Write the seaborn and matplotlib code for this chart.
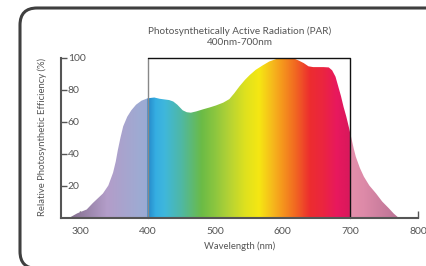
import numpy as np
import pandas as pd
import seaborn as sns
import matplotlib.pyplot as plt
from matplotlib.colors import LinearSegmentedColormap, to_rgb
from matplotlib.patches import FancyBboxPatch, Polygon

wavelength = [285, 296, 310, 319, 334, 342, 349, 353, 356, 360, 364, 370, 376, 383, 391,
              400, 410, 418, 425, 432, 438, 444, 452, 458, 464, 472, 482, 492, 501, 512,
              521, 528, 536, 544, 551, 560, 570, 580, 590, 600, 610, 617, 624, 631, 638,
              645, 660, 668, 673, 678, 682, 686, 690, 694, 698, 701, 705, 708, 714, 720,
              728, 738, 747, 757, 764, 770]
efficiency = [0, 2.6, 5, 9, 15, 20, 28, 35, 42, 50, 57, 63, 67, 70.5, 73,
              74.5, 75, 74.2, 73.8, 73.4, 72.5, 70.5, 67, 65.8, 65.5, 66.3, 67.6, 68.8, 70, 71.8,
              74, 77.5, 82, 86, 89, 92.3, 95, 97.5, 99, 100, 100, 99.3, 98, 96.5, 94.5,
              94, 94, 93.8, 92, 88, 82, 76, 69, 63, 56, 50.5, 43, 38, 31, 25.5,
              20, 15, 10, 5.7, 2.5, 0.3]

# colour stops along the spectrum (nm, colour)
stop_nm = [272, 290, 340, 390, 399.4, 400, 412, 425, 450, 480, 500, 520, 545, 565, 585,
           600, 620, 640, 660, 680, 699.4, 700, 720, 800]
stop_col = ["#7a6688", "#887394", "#b39dc9", "#9dabd3", "#9aaad4", "#2586c8", "#35aee2",
            "#3fb7dc", "#4fb8a4", "#6bbb46", "#8cc63f", "#b3d235", "#dfe11e", "#f5e713",
            "#f6b91c", "#f5951d", "#f16522", "#ed2d2f", "#eb2540", "#e8185e", "#d9185c",
            "#e38fab", "#dd8aa8", "#a8668a"]

x_ticks = [300, 400, 500, 600, 700, 800]
y_ticks = [20, 40, 60, 80, 100]
par_range = (400, 700)

title = "Photosynthetically Active Radiation (PAR)\n400nm-700nm"
xlabel = "Wavelength (nm)"
ylabel = "Relative Photosynthetic Efficiency (%)"

sns.set_style("white")
plt.rcParams["font.family"] = ["Lato", "DejaVu Sans"]
text_col = "#555555"

fig = plt.figure(figsize=(4.26, 2.66), dpi=100)
ax = fig.add_axes([61 / 426, 1 - 217.5 / 266, 357 / 426, 160 / 266])

df = pd.DataFrame({"wavelength": wavelength, "efficiency": efficiency})
sns.lineplot(data=df, x="wavelength", y="efficiency", ax=ax, lw=0, color="white")

# spectrum gradient clipped to the curve
pos = [(n - stop_nm[0]) / (stop_nm[-1] - stop_nm[0]) for n in stop_nm]
cmap = LinearSegmentedColormap.from_list("spec", list(zip(pos, [to_rgb(c) for c in stop_col])), N=1024)
grad = np.linspace(0, 1, 1024).reshape(1, -1)
im = ax.imshow(grad, cmap=cmap, extent=(stop_nm[0], stop_nm[-1], 0, 100),
               aspect="auto", origin="lower", zorder=1)
poly = Polygon(list(zip(wavelength, efficiency)) + [(wavelength[-1], 0), (wavelength[0], 0)],
               closed=True, facecolor="none", edgecolor="none")
ax.add_patch(poly)
im.set_clip_path(poly)

# PAR box
ax.plot([par_range[0], par_range[0]], [0, 100], color="#888888", lw=1, zorder=3, clip_on=False)
ax.plot([par_range[0], par_range[1], par_range[1]], [100, 100, 0], color="#111111", lw=1,
        zorder=3, clip_on=False)

ax.set_xlim(272, 800)
ax.set_ylim(0, 100)
ax.set_xticks(x_ticks)
ax.set_yticks(y_ticks)
ax.set_xlabel(xlabel, fontsize=6.8, color=text_col, labelpad=4)
ax.set_ylabel(ylabel, fontsize=6.8, color=text_col, labelpad=10)
ax.set_title(title, fontsize=7.2, color=text_col, pad=9, linespacing=1.25)

for s in ["top", "right"]:
    ax.spines[s].set_visible(False)
for s in ["left", "bottom"]:
    ax.spines[s].set_color("#555555")
    ax.spines[s].set_linewidth(1.5)
    ax.spines[s].set_zorder(4)

ax.tick_params(axis="x", bottom=True, direction="in", length=5, width=1, color="#555555",
               labelsize=7.5, labelcolor=text_col, pad=7)
ax.tick_params(axis="y", left=True, direction="in", length=4, width=1, color="#555555",
               labelsize=7.5, labelcolor=text_col, pad=-5)
for lab in ax.get_yticklabels():
    lab.set_horizontalalignment("left")

# rounded frame
frame = FancyBboxPatch((20 / 426, -2.5 / 266), 440 / 426, 260.5 / 266,
                       boxstyle="round,pad=0,rounding_size=0.04",
                       transform=fig.transFigure, facecolor="none",
                       edgecolor="#3f3f3f", lw=2.2, clip_on=False, mutation_aspect=426 / 266)
fig.patches.append(frame)

fig.savefig("out.png", dpi=100)
